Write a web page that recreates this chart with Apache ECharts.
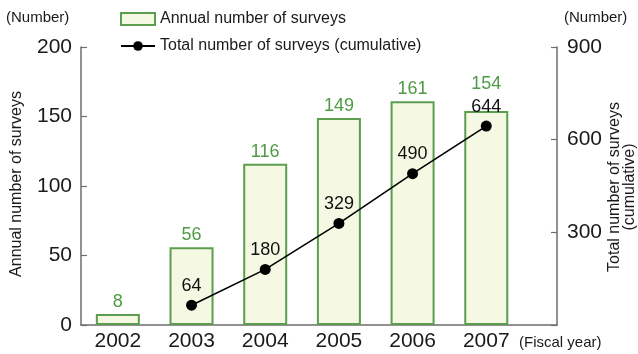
<!DOCTYPE html>
<html>
<head>
<meta charset="utf-8">
<script src="https://cdn.jsdelivr.net/npm/echarts@6/dist/echarts.min.js"></script>
<style>html,body{margin:0;padding:0;background:#fff}#c{width:638px;height:354px}</style>
</head>
<body>
<div id="c"></div>
<script>
var years = [2002, 2003, 2004, 2005, 2006, 2007];
var annualSurveys = [8, 56, 116, 149, 161, 154];
var cumulativeYears = [2003, 2004, 2005, 2006, 2007];
var cumulativeSurveys = [64, 180, 329, 490, 644];
var leftTicks = [0, 50, 100, 150, 200];
var rightTicks = [300, 600, 900];

var FONT = '"Liberation Sans", Arial, Helvetica, sans-serif';
var chart = echarts.init(document.getElementById('c'), null, {renderer: 'canvas'});

var barData = years.map(function (y, i) {
  var item = {value: [y, annualSurveys[i]]};
  if (i === years.length - 1) { item.label = {distance: 18}; }
  return item;
});
var lineData = cumulativeYears.map(function (y, i) { return [y, cumulativeSurveys[i]]; });

var option = {
  animation: false,
  textStyle: {fontFamily: FONT},
  grid: {left: 81, right: 81, top: 47, bottom: 29, containLabel: false},
  legend: {
    orient: 'vertical', left: 115, top: 6, itemGap: 11, itemWidth: 34, itemHeight: 12,
    textStyle: {fontFamily: FONT, fontSize: 16, color: '#1a1a1a'},
    data: [
      {name: 'Annual number of surveys', icon: 'rect'},
      {name: 'Total number of surveys (cumulative)'}
    ]
  },
  xAxis: {
    type: 'value', min: 2001.5, max: 2007.96, interval: 0.5,
    axisLine: {show: true, lineStyle: {color: '#6e6e6e', width: 1.5}},
    axisTick: {show: false}, splitLine: {show: false},
    axisLabel: {
      fontSize: 21, color: '#1a1a1a', margin: 6, fontFamily: FONT,
      showMaxLabel: false,
      formatter: function (v) { return (Math.abs(v - Math.round(v)) < 1e-6 && years.indexOf(Math.round(v)) >= 0) ? String(Math.round(v)) : ''; }
    }
  },
  yAxis: [
    {
      type: 'value', min: 0, max: 200, interval: 50, position: 'left',
      axisLine: {show: true, lineStyle: {color: '#6e6e6e', width: 1.5}},
      axisTick: {show: true, inside: true, length: 6, lineStyle: {color: '#6e6e6e', width: 1.2}},
      splitLine: {show: false},
      axisLabel: {fontSize: 21, color: '#1a1a1a', margin: 9, fontFamily: FONT,
        formatter: function (v) { return leftTicks.indexOf(v) >= 0 ? String(v) : ''; }}
    },
    {
      type: 'value', min: 0, max: 900, interval: 300, position: 'right',
      axisLine: {show: true, lineStyle: {color: '#6e6e6e', width: 1.5}},
      axisTick: {show: true, inside: true, length: 6, lineStyle: {color: '#6e6e6e', width: 1.2}},
      splitLine: {show: false},
      axisLabel: {fontSize: 21, color: '#1a1a1a', margin: 10, fontFamily: FONT,
        formatter: function (v) { return rightTicks.indexOf(v) >= 0 ? String(v) : ''; }}
    }
  ],
  series: [
    {
      name: 'Annual number of surveys', type: 'bar', yAxisIndex: 0, barWidth: 44,
      data: barData,
      itemStyle: {color: '#f5f8e2', borderColor: '#5c9d4f', borderWidth: 2},
      label: {show: true, position: 'top', distance: 3, fontSize: 18, color: '#4f9a44', fontFamily: FONT,
        formatter: function (p) { return p.value[1]; }}
    },
    {
      name: 'Total number of surveys (cumulative)', type: 'line', yAxisIndex: 1,
      data: lineData,
      symbol: 'circle', symbolSize: 11,
      lineStyle: {color: '#000', width: 1.6}, itemStyle: {color: '#000'},
      label: {show: true, position: 'top', distance: 5, fontSize: 18, color: '#111', fontFamily: FONT,
        formatter: function (p) { return p.value[1]; }},
      z: 5
    }
  ],
  graphic: [
    {type: 'text', left: 6, top: 10, style: {text: '(Number)', font: '15px ' + FONT, fill: '#1a1a1a'}},
    {type: 'text', left: 564, top: 10, style: {text: '(Number)', font: '15px ' + FONT, fill: '#1a1a1a'}},
    {type: 'text', left: 519, top: 335, style: {text: '(Fiscal year)', font: '15px ' + FONT, fill: '#1a1a1a'}},
    {type: 'text', x: 17, y: 184, rotation: Math.PI / 2,
      style: {text: 'Annual number of surveys', font: '16px ' + FONT, fill: '#1a1a1a', align: 'center', verticalAlign: 'middle'}},
    {type: 'text', x: 622, y: 187, rotation: Math.PI / 2,
      style: {text: 'Total number of surveys\n(cumulative)', font: '16px ' + FONT, fill: '#1a1a1a', align: 'center', verticalAlign: 'middle', lineHeight: 15}}
  ]
};
chart.setOption(option);
</script>
</body>
</html>
